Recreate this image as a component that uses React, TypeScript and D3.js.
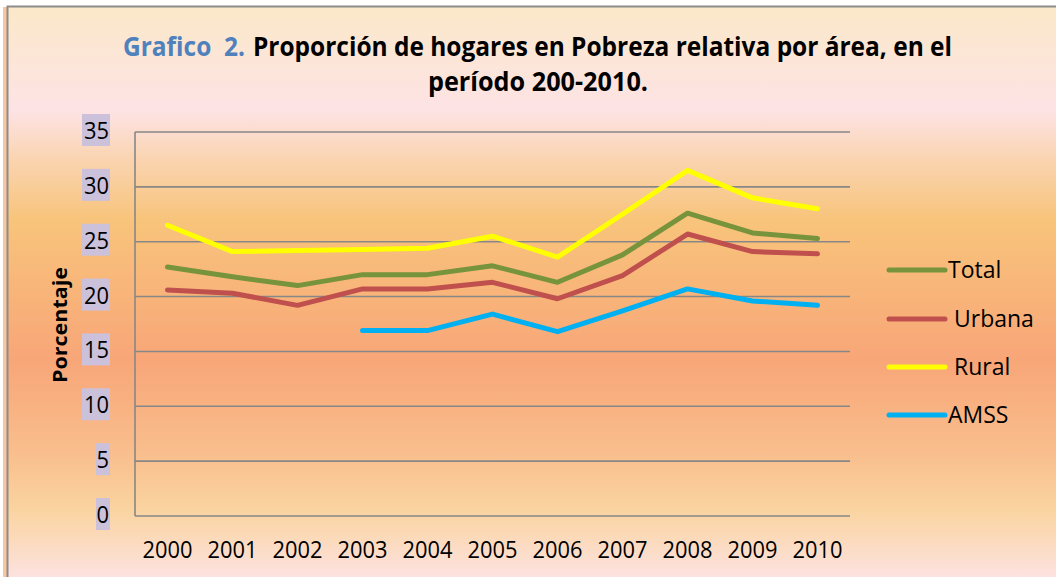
import React, { useEffect, useRef } from 'react';
import * as d3 from 'd3';

const years = ['2000', '2001', '2002', '2003', '2004', '2005', '2006', '2007', '2008', '2009', '2010'];
const total = [22.7, 21.8, 21.0, 22.0, 22.0, 22.8, 21.3, 23.8, 27.6, 25.8, 25.3];
const urbana = [20.6, 20.3, 19.2, 20.7, 20.7, 21.3, 19.8, 21.9, 25.7, 24.1, 23.9];
const rural = [26.5, 24.1, 24.2, 24.3, 24.4, 25.5, 23.6, 27.5, 31.5, 29.0, 28.0];
const amss = [null, null, null, 16.9, 16.9, 18.4, 16.8, 18.7, 20.7, 19.6, 19.2];
const yTicks = [0, 5, 10, 15, 20, 25, 30, 35];

const series = [
    { name: 'Total', values: total, color: '#77933C', label: 'Total' },
    { name: 'Urbana', values: urbana, color: '#C0504D', label: ' Urbana' },
    { name: 'Rural', values: rural, color: '#FFFF00', label: ' Rural' },
    { name: 'AMSS', values: amss, color: '#00B0F0', label: 'AMSS' },
];

const W = 1056;
const H = 577;
const FONT = '"Open Sans", "Liberation Sans", sans-serif';

function Chart() {
    const ref = useRef<SVGSVGElement | null>(null);

    useEffect(() => {
        drawChart();
    });

    function drawChart() {
        const svg = d3.select(ref.current);
        svg.selectAll('*').remove();

        // background gradient
        const defs = svg.append('defs');
        const grad = defs.append('linearGradient')
            .attr('id', 'bg')
            .attr('x1', 0).attr('y1', 0).attr('x2', 0).attr('y2', 1);
        const stops: [number, string][] = [
            [7, '#FBE8C9'], [110, '#FDE3E5'], [160, '#FAD4B0'], [220, '#F8C47B'],
            [360, '#F8A678'], [450, '#F9BD8C'], [510, '#FAD4A0'], [577, '#FDE2E0'],
        ];
        stops.forEach(([y, c]) => {
            grad.append('stop').attr('offset', (y - 7) / (H - 7)).attr('stop-color', c);
        });

        svg.append('rect').attr('width', W).attr('height', H).attr('fill', '#ffffff');
        svg.append('rect').attr('x', 3).attr('y', 7).attr('width', 5).attr('height', H - 7).attr('fill', '#F8C6A0');
        svg.append('rect').attr('x', 8).attr('y', 7).attr('width', W - 8).attr('height', H - 7).attr('fill', 'url(#bg)');
        svg.append('path')
            .attr('d', `M7.5,${H} V6.5 H${W}`)
            .attr('fill', 'none')
            .attr('stroke', '#8C8C8C')
            .attr('stroke-width', 2);

        const margin = { top: 132, right: 206, bottom: 61, left: 135 };
        const x = d3.scaleBand().domain(years).range([margin.left, W - margin.right]);
        const y = d3.scaleLinear().domain([0, 35]).range([H - margin.bottom, margin.top]);

        // gridlines
        svg.append('g')
            .selectAll('line')
            .data(yTicks)
            .enter()
            .append('line')
            .attr('x1', margin.left)
            .attr('x2', W - margin.right)
            .attr('y1', d => y(d))
            .attr('y2', d => y(d))
            .attr('stroke', '#878787')
            .attr('stroke-width', 1.6);
        svg.append('line')
            .attr('x1', margin.left).attr('x2', margin.left)
            .attr('y1', y(35)).attr('y2', y(0))
            .attr('stroke', '#878787')
            .attr('stroke-width', 1.6);

        // y tick labels with lavender boxes
        const yl = svg.append('g').selectAll('g').data(yTicks).enter().append('g');
        yl.append('rect')
            .attr('x', d => 110 - String(d).length * 14)
            .attr('y', d => y(d) - 18)
            .attr('width', d => String(d).length * 14)
            .attr('height', 32)
            .attr('fill', '#CCC1DA');
        yl.append('text')
            .attr('x', 109)
            .attr('y', d => y(d) + 7)
            .attr('text-anchor', 'end')
            .style('font-family', FONT)
            .style('font-size', '23px')
            .style('fill', '#000')
            .text(d => d)
            .attr('textLength', d => String(d).length * 12.5)
            .attr('lengthAdjust', 'spacingAndGlyphs');

        // x tick labels
        svg.append('g')
            .selectAll('text')
            .data(years)
            .enter()
            .append('text')
            .attr('x', d => (x(d) as number) + x.bandwidth() / 2)
            .attr('y', 558)
            .attr('text-anchor', 'middle')
            .style('font-family', FONT)
            .style('font-size', '23px')
            .text(d => d)
            .attr('textLength', 50)
            .attr('lengthAdjust', 'spacingAndGlyphs');

        // lines
        const line = d3.line<number | null>()
            .defined(d => d !== null)
            .x((_, i) => (x(years[i]) as number) + x.bandwidth() / 2)
            .y(d => y(d as number));

        svg.append('g')
            .selectAll('path')
            .data(series)
            .enter()
            .append('path')
            .attr('d', d => line(d.values))
            .attr('fill', 'none')
            .attr('stroke', d => d.color)
            .attr('stroke-width', 5)
            .attr('stroke-linecap', 'round')
            .attr('stroke-linejoin', 'round');

        // legend
        const legY = [270, 319, 367, 415];
        const lg = svg.append('g').selectAll('g').data(series).enter().append('g');
        lg.append('line')
            .attr('x1', 889).attr('x2', 945)
            .attr('y1', (_, i) => legY[i]).attr('y2', (_, i) => legY[i])
            .attr('stroke', d => d.color)
            .attr('stroke-width', 5)
            .attr('stroke-linecap', 'round');
        lg.append('text')
            .attr('x', 948)
            .attr('y', (_, i) => legY[i] + 8)
            .style('font-family', FONT)
            .style('font-size', '23px')
            .style('white-space', 'pre')
            .text(d => d.label);

        // y axis title
        svg.append('text')
            .attr('transform', 'translate(67,325) rotate(-90)')
            .attr('text-anchor', 'middle')
            .style('font-family', FONT)
            .style('font-size', '20px')
            .style('font-weight', 'bold')
            .text('Porcentaje')
            .attr('textLength', 116)
            .attr('lengthAdjust', 'spacingAndGlyphs');

        // title
        svg.append('text')
            .attr('x', 123).attr('y', 56)
            .style('font-family', FONT)
            .style('font-size', '27px')
            .style('font-weight', 'bold')
            .style('fill', '#4F81BD')
            .style('white-space', 'pre')
            .text('Grafico  2.')
            .attr('textLength', 122)
            .attr('lengthAdjust', 'spacingAndGlyphs');
        svg.append('text')
            .attr('x', 253).attr('y', 56)
            .style('font-family', FONT)
            .style('font-size', '27px')
            .style('font-weight', 'bold')
            .text('Proporción de hogares en Pobreza relativa por área, en el')
            .attr('textLength', 699)
            .attr('lengthAdjust', 'spacingAndGlyphs');
        svg.append('text')
            .attr('x', 538).attr('y', 91)
            .attr('text-anchor', 'middle')
            .style('font-family', FONT)
            .style('font-size', '27px')
            .style('font-weight', 'bold')
            .text('período 200-2010.')
            .attr('textLength', 220)
            .attr('lengthAdjust', 'spacingAndGlyphs');
    }

    return <svg ref={ref} width={W} height={H} style={{ position: 'absolute', left: 0, top: 0 }} />;
}

export default function App() {
    return <Chart />;
}
